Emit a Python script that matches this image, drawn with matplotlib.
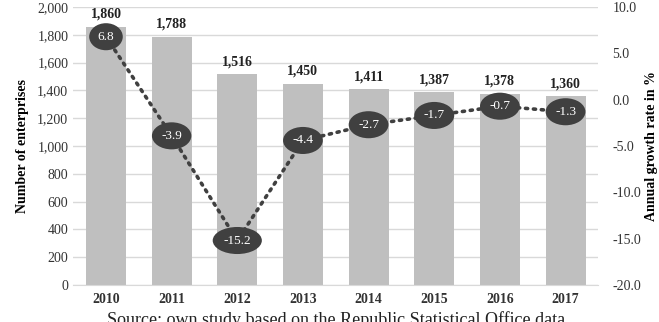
import numpy as np
import matplotlib.pyplot as plt

# data
years = ["2010", "2011", "2012", "2013", "2014", "2015", "2016", "2017"]
enterprises = [1860, 1788, 1516, 1450, 1411, 1387, 1378, 1360]
growth = [6.8, -3.9, -15.2, -4.4, -2.7, -1.7, -0.7, -1.3]

plt.rcParams["font.family"] = ["Liberation Serif", "DejaVu Serif"]

fig = plt.figure(figsize=(6.59, 3.22), dpi=100)
ax = fig.add_axes([0.111, 0.115, 0.797, 0.863])
x = np.arange(len(years))

ax.bar(x, enterprises, width=0.61, color="#bfbfbf", zorder=2)
for xi, v in zip(x, enterprises):
    ax.annotate(f"{v:,}", (xi, v), xytext=(0, 4), textcoords="offset points",
                ha="center", va="bottom", fontsize=10, fontweight="bold", color="#222222")

ax.set_ylim(0, 2000)
ax.set_yticks(np.arange(0, 2001, 200))
ax.set_yticklabels([f"{t:,}" for t in range(0, 2001, 200)])
ax.set_xlim(-0.5, len(years) - 0.5)
ax.set_xticks(x)
ax.set_xticklabels(years, fontweight="bold")
ax.grid(axis="y", color="#d9d9d9", linewidth=1, zorder=0)
for s in ["top", "left", "right"]:
    ax.spines[s].set_visible(False)
ax.spines["bottom"].set_color("#d9d9d9")
ax.tick_params(length=0, labelsize=10, colors="#333333")
ax.tick_params(axis="x", pad=6)
ax.set_ylabel("Number of enterprises", fontweight="bold", fontsize=10, labelpad=6)

ax2 = ax.twinx()
ax2.set_ylim(-20, 10)
ax2.set_yticks(np.arange(-20, 11, 5))
ax2.set_yticklabels([f"{t:.1f}" for t in range(-20, 11, 5)])
for s in ["top", "left", "right", "bottom"]:
    ax2.spines[s].set_visible(False)
ax2.tick_params(length=0, labelsize=10, colors="#333333", pad=10)
ax2.plot(x, growth, color="#404040", linewidth=2.6, linestyle=(0, (0.6, 1.6)),
         dash_capstyle="round", zorder=3)
for xi, g in zip(x, growth):
    ax2.text(xi, g, f"{g:.1f}", ha="center", va="center", fontsize=9.5, color="white",
             zorder=4, bbox=dict(boxstyle="ellipse,pad=0.27", fc="#404040", ec="none"))
ax2.set_ylabel("Annual growth rate in %", fontweight="bold", fontsize=10, labelpad=3)

fig.text(0.163, 0.035, "Source: own study based on the Republic Statistical Office data",
         fontsize=13, va="top", ha="left", color="#222222")

fig.savefig("out.png", dpi=100)
